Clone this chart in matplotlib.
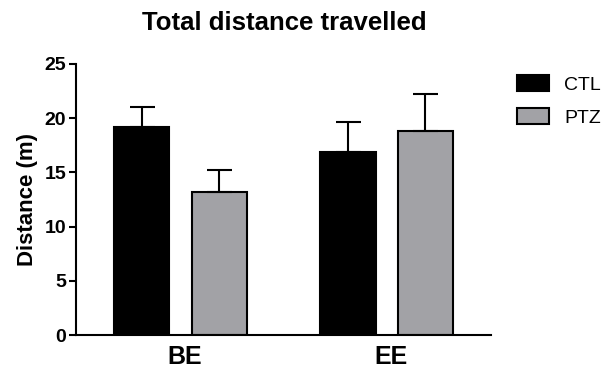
import matplotlib.pyplot as plt
import numpy as np

plt.rcParams['font.family'] = ['Liberation Sans', 'DejaVu Sans']

groups = ["BE", "EE"]
ctl_mean = [19.15, 16.85]
ctl_sem = [1.9, 2.8]
ptz_mean = [13.2, 18.85]
ptz_sem = [2.0, 3.35]

x = np.arange(len(groups))
w = 0.267
off = 0.187

fig = plt.figure(figsize=(6.08, 3.76), dpi=100)
ax = fig.add_axes([0.125, 0.109, 0.6826, 0.721])

err_kw = dict(elinewidth=1.5, capsize=9, capthick=1.5, ecolor="black")
ax.bar(x - off, ctl_mean, w, yerr=[np.zeros(2), ctl_sem], color="black",
       edgecolor="black", linewidth=1.5, label="CTL", error_kw=err_kw)
ax.bar(x + off, ptz_mean, w, yerr=[np.zeros(2), ptz_sem], color="#a2a2a6",
       edgecolor="black", linewidth=1.5, label="PTZ", error_kw=err_kw)

ax.set_xlim(-0.507, 1.507)
ax.set_ylim(0, 25)
ax.set_yticks([0, 5, 10, 15, 20, 25])
ax.set_xticks(x + 0.02)
ax.set_xticklabels(groups, fontsize=18, fontweight="bold")
ax.tick_params(axis="x", length=0, pad=7)
ax.tick_params(axis="y", length=5, width=1.5, labelsize=14, pad=2)
for t in ax.get_yticklabels():
    t.set_fontweight("bold")

for s in ["top", "right"]:
    ax.spines[s].set_visible(False)
for s in ["left", "bottom"]:
    ax.spines[s].set_linewidth(1.5)

ax.set_ylabel("Distance (m)", fontsize=16, fontweight="bold", labelpad=5)
fig.text(0.468, 0.940, "Total distance travelled", ha="center", va="center",
         fontsize=18.5, fontweight="bold")

ax.legend(loc="upper left", bbox_to_anchor=(0.850, 0.800),
          bbox_transform=fig.transFigure, frameon=False, fontsize=14,
          borderpad=0, borderaxespad=0, handlelength=1.65, handleheight=0.9,
          labelspacing=0.72, handletextpad=0.8)

fig.savefig("out.png", dpi=100)
